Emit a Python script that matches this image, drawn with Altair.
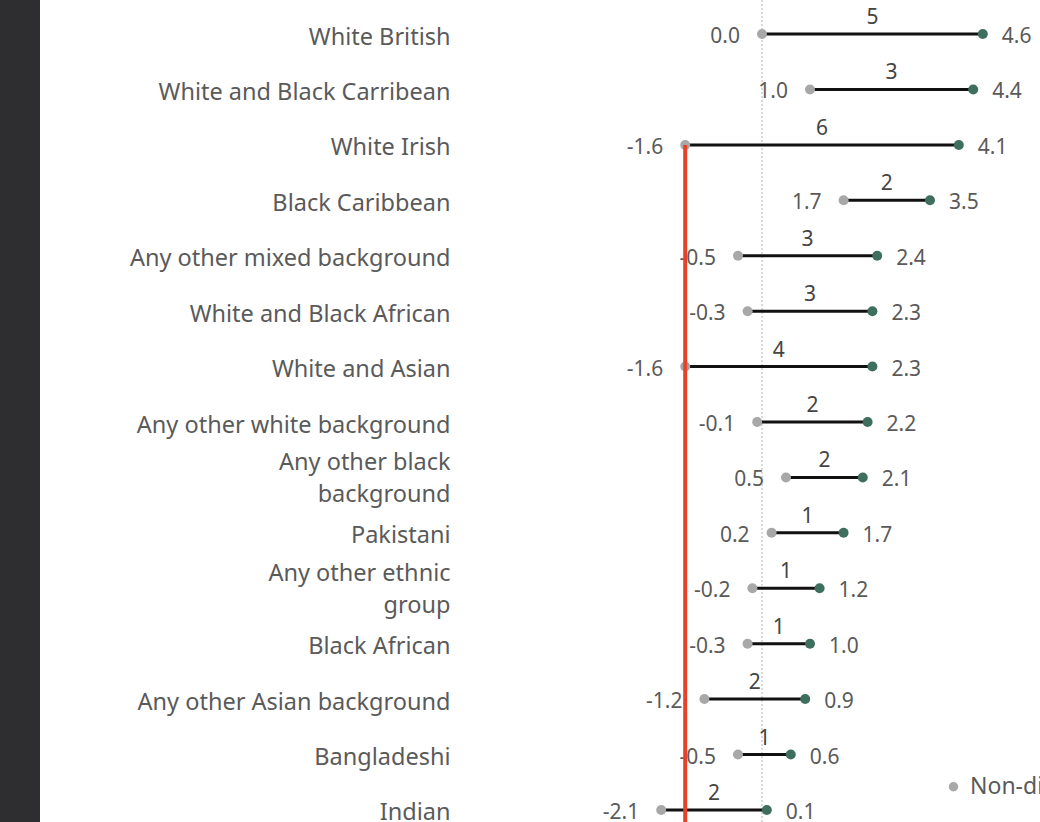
import altair as alt
import pandas as pd

categories = [
    "White British", "White and Black Carribean", "White Irish", "Black Caribbean",
    "Any other mixed background", "White and Black African", "White and Asian",
    "Any other white background", "Any other black background", "Pakistani",
    "Any other ethnic group", "Black African", "Any other Asian background",
    "Bangladeshi", "Indian",
]
non_disadvantaged = [0.0, 1.0, -1.6, 1.7, -0.5, -0.3, -1.6, -0.1, 0.5, 0.2, -0.2, -0.3, -1.2, -0.5, -2.1]
disadvantaged = [4.6, 4.4, 4.1, 3.5, 2.4, 2.3, 2.3, 2.2, 2.1, 1.7, 1.2, 1.0, 0.9, 0.6, 0.1]
gap_labels = [5, 3, 6, 2, 3, 3, 4, 2, 2, 1, 1, 1, 2, 1, 2]
groups = ["Non-disadvantaged", "Disadvantaged"]
group_colors = ["#a8a8a8", "#3e6e5e"]
highlight_category = "White Irish"
wrapped = {
    "Any other black background": ["Any other black", "background"],
    "Any other ethnic group": ["Any other ethnic", "group"],
}

wide = pd.DataFrame({
    "cat": categories,
    "non": non_disadvantaged,
    "dis": disadvantaged,
    "gap": [str(g) for g in gap_labels],
    "non_lbl": [f"{v:.1f}" for v in non_disadvantaged],
    "dis_lbl": [f"{v:.1f}" for v in disadvantaged],
})
long = pd.concat([
    pd.DataFrame({"cat": categories, "value": non_disadvantaged, "group": groups[0]}),
    pd.DataFrame({"cat": categories, "value": disadvantaged, "group": groups[1]}),
])
hl = wide[wide["cat"] == highlight_category][["cat", "non"]]

FONT = "Noto Sans"
TXT = "#5a5a5a"
H = 800
W = 564
xsc = alt.Scale(domain=[-6, 5.75], nice=False, zero=False)
ysc = alt.Scale(type="point", domain=categories, padding=0.218)

label_expr = " : ".join(
    [f"datum.label == '{k}' ? ['{v[0]}', '{v[1]}']" for k, v in wrapped.items()] + ["datum.label"]
)
wrap_test = " || ".join([f"datum.value == '{k}'" for k in wrapped])
yaxis = alt.Axis(title=None, domain=False, ticks=False, tickSize=0, grid=False,
                 labelPadding=24, labelFontSize=23.5, labelFont=FONT, labelColor=TXT,
                 labelLimit=440, labelExpr=label_expr, labelLineHeight=32,
                 labelOffset=alt.condition(wrap_test, alt.value(-15), alt.value(3)))
Y = alt.Y("cat:N", scale=ysc, sort=categories, axis=yaxis)

strip = alt.Chart(pd.DataFrame({"a": [0]})).mark_rect(color="#2e2e30").encode(
    x=alt.value(-474), x2=alt.value(-434), y=alt.value(-22), y2=alt.value(H))

zero = alt.Chart(pd.DataFrame({"z": [0.0]})).mark_rule(
    color="#b5b5b5", strokeDash=[2, 2], strokeWidth=1).encode(
    x=alt.X("z:Q", scale=xsc, axis=None), y=alt.value(-22), y2=alt.value(H))

lines = alt.Chart(wide).mark_rule(color="#111111", strokeWidth=3).encode(
    y=Y, x=alt.X("non:Q", scale=xsc, axis=None), x2="dis:Q")

dots = alt.Chart(long).mark_circle(size=100, opacity=1).encode(
    y=Y, x=alt.X("value:Q", scale=xsc, axis=None),
    color=alt.Color("group:N", scale=alt.Scale(domain=groups, range=group_colors),
                    legend=alt.Legend(title=None, orient="none", legendX=468, legendY=753,
                                      direction="horizontal", labelFont=FONT, labelFontSize=23,
                                      labelColor=TXT, symbolType="circle", symbolSize=90,
                                      labelOffset=5, padding=0, columnPadding=30)))

non_text = alt.Chart(wide).mark_text(align="right", baseline="middle", dx=-22, dy=3,
                                     font=FONT, fontSize=21, color=TXT).encode(
    y=Y, x=alt.X("non:Q", scale=xsc, axis=None), text="non_lbl:N")

dis_text = alt.Chart(wide).mark_text(align="left", baseline="middle", dx=19, dy=3,
                                     font=FONT, fontSize=21, color=TXT).encode(
    y=Y, x=alt.X("dis:Q", scale=xsc, axis=None), text="dis_lbl:N")

gap_text = alt.Chart(wide).transform_calculate(mid="(datum.non + datum.dis) / 2").mark_text(
    align="center", baseline="middle", dy=-16, font=FONT, fontSize=21, color="#444444").encode(
    y=Y, x=alt.X("mid:Q", scale=xsc, axis=None), text="gap:N")

red = alt.Chart(hl).mark_rule(color="#e8412a", strokeWidth=4).encode(
    y=Y, x=alt.X("non:Q", scale=xsc, axis=None), y2=alt.value(H))

chart = alt.layer(strip, zero, lines, dots, non_text, dis_text, gap_text, red).properties(
    width=W, height=H,
    autosize=alt.AutoSizeParams(type="none"),
    padding={"left": 474, "top": 22, "right": 2, "bottom": 0},
    background="white",
).configure_view(stroke=None)

chart.save("out.html", embed_options={"renderer": "svg", "actions": False})
